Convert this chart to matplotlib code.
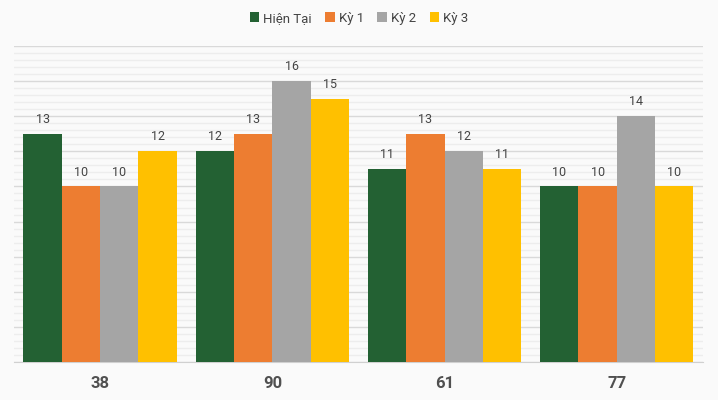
import numpy as np
import matplotlib
matplotlib.use("Agg")
import matplotlib.pyplot as plt
from matplotlib.ticker import MultipleLocator

plt.rcParams['font.family'] = ['Roboto', 'DejaVu Sans']

categories = ["38", "90", "61", "77"]
series_names = ["Hiện Tại", "Kỳ 1", "Kỳ 2", "Kỳ 3"]
hien_tai = [13, 12, 11, 10]
ky1 = [10, 13, 13, 10]
ky2 = [10, 16, 12, 14]
ky3 = [12, 15, 11, 10]
colors = ["#236133", "#ED7D31", "#A5A5A5", "#FFC000"]

bg = "#FAFAFA"
fig = plt.figure(figsize=(7.18, 4.0), dpi=100, facecolor=bg)
ax = fig.add_axes([0.0195, 0.095, 0.9595, 0.79], facecolor=bg)

x = np.arange(len(categories))
n = 4
group_w = 0.89
bw = group_w / n
for i, (name, vals, c) in enumerate(zip(series_names, [hien_tai, ky1, ky2, ky3], colors)):
    pos = x - group_w / 2 + bw * (i + 0.5)
    bars = ax.bar(pos, vals, bw, color=c, label=name, zorder=3)
    for b, v in zip(bars, vals):
        ax.text(b.get_x() + b.get_width() / 2, v + 0.45, str(v), ha="center", va="bottom",
                fontsize=9, color="#444444", zorder=4)

ax.set_xlim(-0.5, len(categories) - 0.5)
ax.set_ylim(0, 18)
ax.yaxis.set_major_locator(MultipleLocator(2))
ax.yaxis.set_minor_locator(MultipleLocator(0.4))
ax.grid(axis="y", which="major", color="#D9D9D9", linewidth=1, zorder=0)
ax.grid(axis="y", which="minor", color="#EDEDED", linewidth=1, zorder=0)
ax.tick_params(axis="y", which="both", left=False, labelleft=False)
ax.set_xticks(x)
ax.set_xticklabels(categories, fontsize=12, fontweight="bold", color="#505050")
ax.tick_params(axis="x", length=0, pad=10)
for s in ["top", "left", "right"]:
    ax.spines[s].set_visible(False)
ax.spines["bottom"].set_color("#D0D0D0")

fig.legend(loc="upper center", bbox_to_anchor=(0.5, 1.0), ncol=4, frameon=False,
           fontsize=9.5, handlelength=0.75, handleheight=0.75, handletextpad=0.3,
           columnspacing=1.0, labelcolor="#444444")

fig.savefig("out.png", dpi=100, facecolor=bg)
